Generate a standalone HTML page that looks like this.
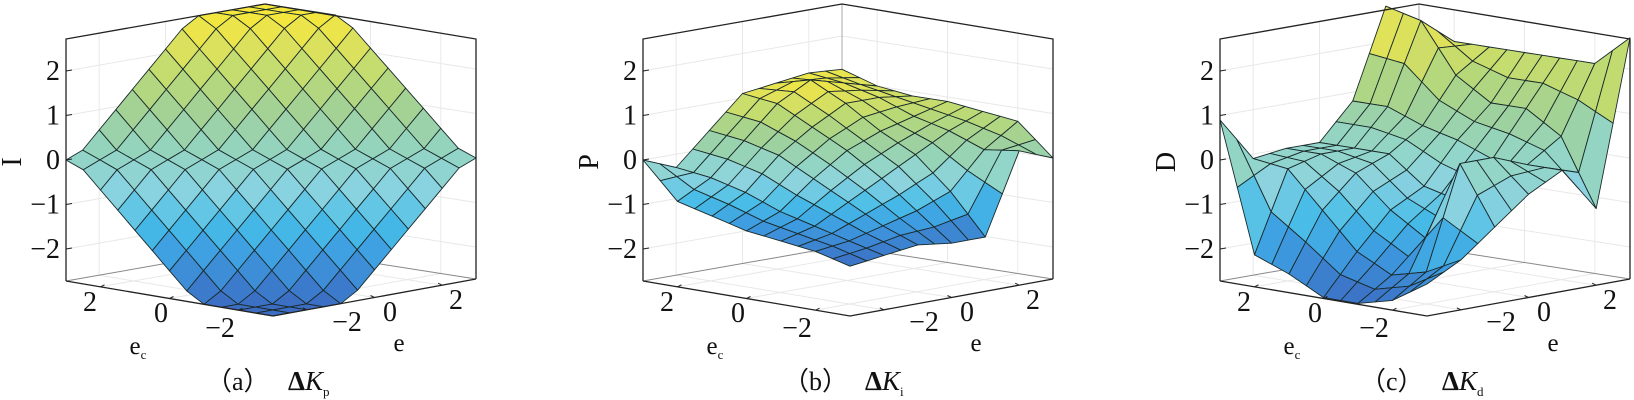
<!DOCTYPE html>
<html><head><meta charset="utf-8">
<style>
html,body{margin:0;padding:0;background:#fff;}
svg{display:block;}
text{font-family:"Liberation Serif","Times New Roman",serif;fill:#111;}
</style></head>
<body>
<svg id="s" width="1634" height="400" viewBox="0 0 1634 400" xmlns="http://www.w3.org/2000/svg"></svg>
<script>
var svg=document.getElementById('s');
var out='';
function fA(ec,e){var v=ec+e;var a=Math.abs(v);var z=2.72*Math.min(1,Math.max(0,(a-0.3)/3.5));return v<0?-z:z;}
var TB=[
[0,-0.3,0.4,1.1,1.2,1.3,1.25],
[-0.8,-0.4,0.3,1.0,1.4,1.2,1.0],
[-1.0,-0.6,0.1,0.6,1.0,1.0,0.9],
[-1.2,-0.9,-0.3,0.2,0.5,0.7,0.9],
[-1.3,-1.1,-0.7,-0.3,0.1,0.5,0.8],
[-1.4,-1.3,-1.1,-0.9,-0.6,0.2,0.7],
[-1.6,-1.5,-1.4,-1.5,-1.5,0.3,0.0]];
var TC=[
[0.9,-0.1,0,0,0.8,2.8,2.2],
[-2.0,-0.2,0,0,0.8,2.6,2.0],
[-2.3,-1.0,-0.3,0,0.5,1.5,2.0],
[-2.7,-1.8,-1.0,-0.6,0.3,1.0,2.0],
[-2.7,-2.2,-1.5,-0.8,0,1.0,2.0],
[-2.5,-2.0,0.3,0.3,0,0.5,2.0],
[-2.0,-1.6,-1.0,-0.4,0,-1.0,2.7]];
function tf(T){return function(ec,e){var fi=(3-ec),fj=(e+3);var i0=Math.min(5,Math.floor(fi)),j0=Math.min(5,Math.floor(fj));var a=fi-i0,b=fj-j0;
  return T[i0][j0]*(1-a)*(1-b)+T[i0+1][j0]*a*(1-b)+T[i0][j0+1]*(1-a)*b+T[i0+1][j0+1]*a*b;};}
var stops=[[-2.7,[60,109,194]],[-1.8,[61,155,224]],[-1.2,[71,189,232]],[-0.5,[141,211,223]],[0,[146,213,200]],[0.8,[159,209,154]],[1.5,[185,217,119]],[2.2,[226,226,88]],[2.7,[245,231,60]]];
function col(z){if(z<=stops[0][0])return 'rgb('+stops[0][1]+')';for(var i=1;i<stops.length;i++){if(z<=stops[i][0]){var a=stops[i-1],b=stops[i];var f=(z-a[0])/(b[0]-a[0]);var c=[0,1,2].map(function(k){return Math.round(a[1][k]+(b[1][k]-a[1][k])*f);});return 'rgb('+c.join(',')+')';}}return 'rgb('+stops[stops.length-1][1]+')';}
function panel(dx,f,zmin,zmax,lab,cap,sub){
 var L=66+dx,F=273+dx,R=476+dx,Ap=265+dx;
 function P(ec,e,z){var s=(e+3)/6,t=(3-ec)/6;
  var x=(1-s)*(1-t)*L+(1-s)*t*F+s*t*R+s*(1-t)*Ap;
  var y=(1-s)*(1-t)*281+(1-s)*t*316+s*t*279+s*(1-t)*246;
  return [x,y-(z+2.72)*44.5];}
 function pt(a){return a[0].toFixed(1)+','+a[1].toFixed(1);}
 var g='#e8e8e8';
 for(var z=-2;z<=2;z++){out+='<polyline points="'+pt(P(3,-3,z))+' '+pt(P(3,3,z))+' '+pt(P(-3,3,z))+'" fill="none" stroke="'+g+'" stroke-width="1"/>';}
 [-2,0,2].forEach(function(v){
  out+='<line x1="'+P(3,v,-2.72)[0]+'" y1="'+P(3,v,-2.72)[1]+'" x2="'+P(3,v,2.72)[0]+'" y2="'+P(3,v,2.72)[1]+'" stroke="'+g+'"/>';
  out+='<line x1="'+P(v,3,-2.72)[0]+'" y1="'+P(v,3,-2.72)[1]+'" x2="'+P(v,3,2.72)[0]+'" y2="'+P(v,3,2.72)[1]+'" stroke="'+g+'"/>';
  out+='<polyline points="'+pt(P(3,v,-2.72))+' '+pt(P(-3,v,-2.72))+'" fill="none" stroke="'+g+'"/>';
  out+='<polyline points="'+pt(P(v,3,-2.72))+' '+pt(P(v,-3,-2.72))+'" fill="none" stroke="'+g+'"/>';
 });
 out+='<polyline points="'+pt(P(3,-3,-2.72))+' '+pt(P(3,3,-2.72))+' '+pt(P(-3,3,-2.72))+'" fill="none" stroke="#888" stroke-width="1"/>';
 out+='<line x1="'+Ap+'" y1="4" x2="'+Ap+'" y2="246" stroke="#aaa"/>';
 var quads=[];
 for(var k=0;k<12;k++)for(var m=0;m<12;m++){
  var ec0=3-k*0.5,ec1=3-(k+1)*0.5,e0=-3+m*0.5,e1=-3+(m+1)*0.5;
  var z00=f(ec0,e0),z10=f(ec1,e0),z11=f(ec1,e1),z01=f(ec0,e1);
  var d=(k+0.5)/12-(m+0.5)/12;
  var zm=(z00+z10+z11+z01)/4;var cn=-2.7+5.4*(zm-zmin)/(zmax-zmin);
  quads.push([d,'<polygon points="'+pt(P(ec0,e0,z00))+' '+pt(P(ec1,e0,z10))+' '+pt(P(ec1,e1,z11))+' '+pt(P(ec0,e1,z01))+'" fill="'+col(cn)+'" stroke="#1a2a2a" stroke-width="0.9" stroke-linejoin="round"/>']);
 }
 quads.sort(function(a,b){return a[0]-b[0];});
 quads.forEach(function(q){out+=q[1];});
 out+='<polyline points="'+L+',281 '+L+',39 '+Ap+',4 '+R+',39 '+R+',279" fill="none" stroke="#222" stroke-width="1.3"/>';
 out+='<polyline points="'+L+',281 '+F+',316 '+R+',279" fill="none" stroke="#222" stroke-width="1.3"/>';
 var zl=['2','1','0','\u22121','\u22122'];
 for(var i=0;i<5;i++){var zz=2-i;var y=281-(zz+2.72)*44.5;
  out+='<line x1="'+L+'" y1="'+y+'" x2="'+(L+6)+'" y2="'+(y-1)+'" stroke="#222"/>';
  out+='<text x="'+(L-6)+'" y="'+(y+9)+'" font-size="28" text-anchor="end">'+zl[i]+'</text>';}
 [2,0,-2].forEach(function(v){var p=P(v,-3,-2.72);out+='<line x1="'+p[0]+'" y1="'+p[1]+'" x2="'+(p[0]+4)+'" y2="'+(p[1]-2)+'" stroke="#222"/>';
  var q=P(-3,v,-2.72);out+='<line x1="'+q[0]+'" y1="'+q[1]+'" x2="'+(q[0]-4)+'" y2="'+(q[1]-2)+'" stroke="#222"/>';});
 var ecl=[[24,311,'2'],[95,322,'0'],[154,337,'\u22122']],el=[[281,331,'\u22122'],[324,321,'0'],[390,309,'2']];
 ecl.concat(el).forEach(function(a){out+='<text x="'+(L+a[0])+'" y="'+a[1]+'" font-size="28" text-anchor="middle">'+a[2]+'</text>';});
 out+='<text x="'+(L+72)+'" y="354" font-size="25" text-anchor="middle">e<tspan font-size="13" dy="5">c</tspan></text>';
 out+='<text x="'+(L+333)+'" y="351" font-size="25" text-anchor="middle">e</text>';
 out+='<text transform="translate('+(L-45)+',162) rotate(-90)" font-size="28" text-anchor="middle">'+lab+'</text>';
 out+='<text x="'+(L+140)+'" y="390" font-size="26">（'+cap+'）</text>';
 out+='<text x="'+(L+222)+'" y="390" font-size="27" font-weight="bold">Δ<tspan font-style="italic" font-weight="normal">K</tspan><tspan font-size="13" font-weight="normal" dy="6">'+sub+'</tspan></text>';
}
panel(0,fA,-2.72,2.72,'I','a','p');
panel(577,tf(TB),-1.6,1.4,'P','b','i');
panel(1154,tf(TC),-2.7,2.8,'D','c','d');
svg.innerHTML=out;
</script>
</body></html>
